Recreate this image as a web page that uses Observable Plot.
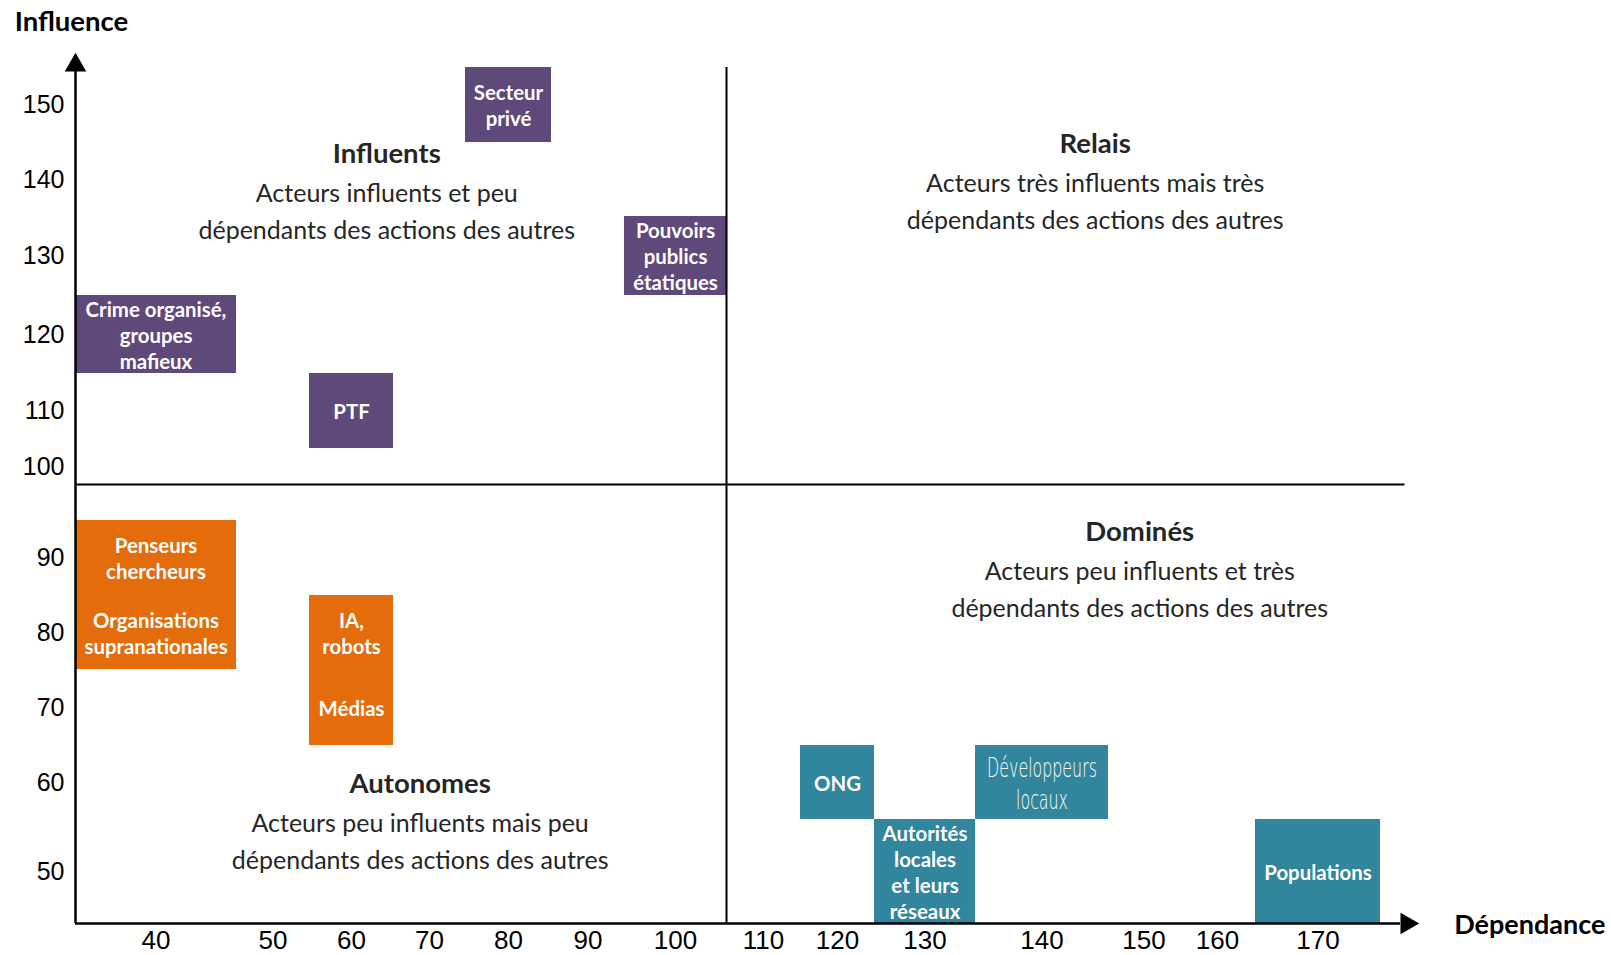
<!DOCTYPE html>
<html><head><meta charset="utf-8">
<script src="https://cdn.jsdelivr.net/npm/d3@7"></script>
<script src="https://cdn.jsdelivr.net/npm/@observablehq/plot@0.6"></script>
<style>body{margin:0;background:#fff}</style>
</head><body>
<div id="chart"></div>
<script>
// ---- Data ----
const actors = ["Secteur privé", "Pouvoirs publics étatiques", "Crime organisé, groupes mafieux", "PTF",
  "Penseurs chercheurs", "Organisations supranationales", "IA, robots", "Médias",
  "ONG", "Autorités locales et leurs réseaux", "Développeurs locaux", "Populations"];
const actorLabels = ["Secteur\nprivé", "Pouvoirs\npublics\nétatiques", "Crime organisé,\ngroupes\nmafieux", "PTF",
  "Penseurs\nchercheurs", "Organisations\nsupranationales", "IA,\nrobots", "Médias",
  "ONG", "Autorités\nlocales\net leurs\nréseaux", "Développeurs\nlocaux", "Populations"];
const dependance = [80, 100, 40, 60, 40, 40, 60, 60, 120, 130, 140, 170];
const influence  = [150, 130, 120, 110, 90, 80, 80, 70, 60, 50, 60, 50];
const groups = ["Influents", "Influents", "Influents", "Influents",
  "Autonomes", "Autonomes", "Autonomes", "Autonomes",
  "Dominés", "Dominés", "Dominés", "Dominés"];
const groupNames = ["Influents", "Autonomes", "Dominés"];
const groupColors = ["#5F497A", "#E46C0A", "#31859C"];

const xTickValues = [40, 50, 60, 70, 80, 90, 100, 110, 120, 130, 140, 150, 160, 170];
const yTickValues = [150, 140, 130, 120, 110, 100, 90, 80, 70, 60, 50];

const quadrantTitles = ["Influents", "Relais", "Dominés", "Autonomes"];
const quadrantTexts = [
  "Acteurs influents et peu\ndépendants des actions des autres",
  "Acteurs très influents mais très\ndépendants des actions des autres",
  "Acteurs peu influents et très\ndépendants des actions des autres",
  "Acteurs peu influents mais peu\ndépendants des actions des autres"];
const axisTitles = ["Influence", "Dépendance"];

// ---- Layout / scale configuration ----
// Each score occupies a cell of ±5 around its value; the cells have uneven widths (table-like grid)
const cellHalf = 5;
const xBreaks = [35, 45, 55, 65, 75, 85, 95, 105, 115, 125, 135, 145, 155, 165, 175];
const xRange  = [75, 236, 309, 393, 465, 551, 624, 726, 800, 874, 975, 1108, 1179, 1255, 1380];
const yBreaks = [155, 145, 135, 125, 115, 105, 100, 97.5, 95, 85, 75, 65, 55, 45];
const yRange  = [67, 142, 216, 295, 373, 448, 466, 484, 520, 595, 669, 745, 819, 923];
const thresholdX = 105, thresholdY = 97.5;
const xMin = 35, yMin = 45;
const quadAnchors = [[64.2, 143.2], [144.0, 144.6], [149.4, 93.3], [68.7, 59.6]];

const table = actors.map((name, i) => ({name, label: actorLabels[i], x: dependance[i], y: influence[i], group: groups[i]}));
const quads = quadrantTitles.map((t, i) => ({title: t, text: quadrantTexts[i], x: quadAnchors[i][0], y: quadAnchors[i][1]}));
const isNarrow = d => d.name === "Développeurs locaux";

const chart = Plot.plot({
  width: 1611, height: 955,
  marginTop: 0, marginRight: 0, marginBottom: 0, marginLeft: 0,
  style: {fontFamily: "Lato, sans-serif", background: "#fff"},
  x: {type: "linear", domain: xBreaks, range: xRange, axis: null},
  y: {type: "linear", domain: yBreaks, range: yRange, axis: null},
  color: {domain: groupNames, range: groupColors},
  marks: [
    Plot.rect(table, {x1: d => d.x - cellHalf, x2: d => d.x + cellHalf, y1: d => d.y - cellHalf, y2: d => d.y + cellHalf, fill: "group"}),
    Plot.text(table.filter(d => !isNarrow(d)), {x: "x", y: "y", text: "label", fill: "white", fontSize: 20.4, fontWeight: "bold", lineHeight: 1.27}),
    Plot.text(table.filter(isNarrow), {x: "x", y: "y", text: "label", fill: "white", fontSize: 26, fontWeight: 200, lineHeight: 1.23,
      fontFamily: "'DejaVu Sans', sans-serif"}),
    // quadrant separators
    Plot.ruleX([thresholdX], {y1: yMin, y2: 155, stroke: "#000", strokeWidth: 2}),
    Plot.ruleY([thresholdY], {x1: xMin, x2: 176.96, stroke: "#000", strokeWidth: 2}),
    // axes with arrows
    Plot.ruleX([xMin], {y1: yMin, y2: 154.5, stroke: "#000", strokeWidth: 2.5}),
    Plot.ruleY([yMin], {x1: xMin, x2: 176.6, stroke: "#000", strokeWidth: 2.5}),
    Plot.dot([[xMin, 155.3]], {x: d => d[0], y: d => d[1], symbol: "triangle", r: 8, fill: "#000", stroke: null}),
    Plot.dot([[177.1, yMin]], {x: d => d[0], y: d => d[1], symbol: "triangle", r: 8, rotate: 90, fill: "#000", stroke: null}),
    // tick labels
    Plot.text(xTickValues, {x: d => d, y: yMin, dy: 17.5, text: d => String(d), fontSize: 26, fill: "#000",
      fontFamily: "'Liberation Sans', Arial, sans-serif"}),
    Plot.text(yTickValues, {x: xMin, y: d => d, dx: -11, textAnchor: "end", text: d => String(d), fontSize: 25, fill: "#000",
      fontFamily: "'Liberation Sans', Arial, sans-serif"}),
    // quadrant labels
    Plot.text(quads, {x: "x", y: "y", dy: -1.5, text: "title", fontSize: 27.5, fontWeight: "bold", fill: "#262626"}),
    Plot.text(quads, {x: "x", y: "y", dy: 53, text: "text", fontSize: 25, lineHeight: 1.48, fill: "#262626"}),
    // axis titles
    Plot.text([axisTitles[0]], {x: xMin, y: 161, dx: -4, text: d => d, fontSize: 27.5, fontWeight: "bold", fill: "#000"}),
    Plot.text([axisTitles[1]], {x: 180.9, y: yMin, dy: 2, textAnchor: "start", text: d => d, fontSize: 27, fontWeight: "bold", fill: "#000"})
  ]
});
// compress the condensed-style label horizontally (narrow display face in the original)
d3.select(chart).selectAll("text")
  .filter(function() { return this.textContent.startsWith("Développeurs"); })
  .attr("transform", function() { return (this.getAttribute("transform") || "") + " scale(0.61,1)"; });
document.getElementById("chart").appendChild(chart);
</script>
</body></html>
